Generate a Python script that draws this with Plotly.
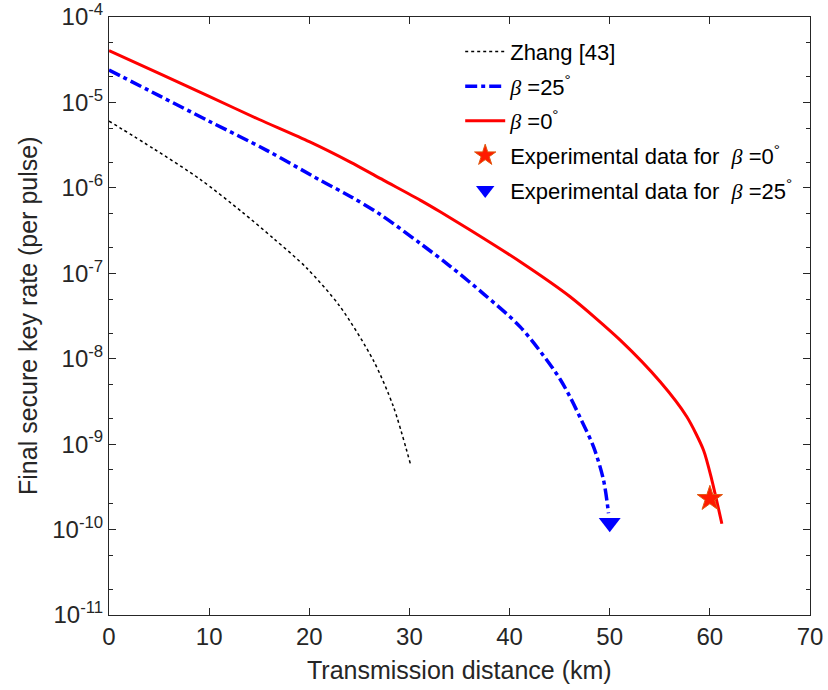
import plotly.graph_objects as go

# Zhang [43]
zhang_x = [0, 4.5, 9.1, 13.26, 16.41, 19.75, 23.08, 26.4, 28.4, 30.14]
zhang_y = [6.05e-6, 2.85e-6, 1.26e-6, 5.25e-7, 2.57e-7, 1.15e-7, 4.07e-8, 9.55e-9, 2.75e-9, 5.62e-10]

# beta = 25 deg
b25_x = [0, 5, 10, 15.75, 21.08, 24.1, 27.07, 31.07, 34.1, 37.4, 41.06, 44.06, 45.05, 46.05, 47.05,
         48.38, 49.38, 49.88]
b25_y = [2.40e-5, 1.20e-5, 6.03e-6, 2.75e-6, 1.23e-6, 7.94e-7, 4.9e-7, 2.24e-7, 1.2e-7, 5.75e-8,
         2.36e-8, 8.5e-9, 5.75e-9, 3.55e-9, 2.04e-9, 9.33e-10, 3.8e-10, 1.55e-10]

# beta = 0 deg
b0_x = [0, 5, 10, 15, 20, 24.1, 27.4, 31.07, 33.07, 36.06, 41.06, 46.05, 51.05, 55.04, 57.7, 59.37,
        60.2, 61.2]
b0_y = [4.03e-5, 2.19e-5, 1.175e-5, 6.31e-6, 3.47e-6, 2.0e-6, 1.23e-6, 7.19e-7, 5.25e-7, 3.21e-7,
        1.365e-7, 5.31e-8, 1.65e-8, 5.37e-9, 2.09e-9, 8.5e-10, 3.8e-10, 1.17e-10]

# experimental points
exp0_x = [60]
exp0_y = [2.3e-10]
exp25_x = [50]
exp25_y = [1.2e-10]

x_ticks = [0, 10, 20, 30, 40, 50, 60, 70]
y_ticks = [1e-4, 1e-5, 1e-6, 1e-7, 1e-8, 1e-9, 1e-10, 1e-11]
y_tick_text = ["10<sup>-4</sup>", "10<sup>-5</sup>", "10<sup>-6</sup>", "10<sup>-7</sup>",
               "10<sup>-8</sup>", "10<sup>-9</sup>", "10<sup>-10</sup>", "10<sup>-11</sup>"]

BETA = "<span style='font-family:Liberation Serif'><i>β</i></span>"
FONT = "Liberation Sans, Arial"
TXT = "#262626"

fig = go.Figure()
fig.add_trace(go.Scatter(x=zhang_x, y=zhang_y, mode="lines", name="Zhang [43]",
                         line=dict(color="black", width=1.5, dash="3px,3px", shape="spline", smoothing=0.8),
                         legendgroup="a"))
fig.add_trace(go.Scatter(x=b25_x, y=b25_y, mode="lines", name=BETA + " =25<sup>°</sup>",
                         line=dict(color="#0000ff", width=3.5, dash="12px,4px,4px,4px",
                                   shape="spline", smoothing=0.9),
                         legendgroup="b"))
fig.add_trace(go.Scatter(x=b0_x, y=b0_y, mode="lines", name=BETA + " =0<sup>°</sup>",
                         line=dict(color="#ff0000", width=3, shape="spline", smoothing=0.7),
                         legendgroup="c"))
fig.add_trace(go.Scatter(x=exp0_x, y=exp0_y, mode="markers",
                         name="Experimental data for  " + BETA + " =0<sup>°</sup>",
                         marker=dict(symbol="star", size=19, color="#ff1a00",
                                     line=dict(color="#e05a10", width=1)), legendgroup="d"))
fig.add_trace(go.Scatter(x=exp25_x, y=exp25_y, mode="markers",
                         name="Experimental data for  " + BETA + " =25<sup>°</sup>",
                         marker=dict(symbol="triangle-down", size=19, color="#0000ff",
                                     line=dict(width=0)), legendgroup="e"))

axis_common = dict(showline=True, linecolor=TXT, linewidth=1, mirror="ticks",
                   ticks="inside", ticklen=7, tickcolor=TXT, showgrid=False, zeroline=False,
                   automargin=False, ticklabeloverflow="allow",
                   tickfont=dict(family=FONT, size=24, color=TXT))

fig.update_xaxes(range=[0, 70], tickvals=x_ticks, **axis_common)
fig.update_yaxes(type="log", range=[-11, -4], tickvals=y_ticks, ticktext=y_tick_text,
                 minor=dict(ticks="inside", ticklen=4, tickcolor=TXT, showgrid=False),
                 **axis_common)

# axis titles
fig.add_annotation(text="Transmission distance (km)", xref="paper", yref="paper", x=0.5, y=0,
                   xanchor="center", yanchor="middle", yshift=-55, showarrow=False,
                   font=dict(family=FONT, size=25, color=TXT))
fig.add_annotation(text="Final secure key rate (per pulse)", xref="paper", yref="paper", x=0, y=0.5,
                   xanchor="center", yanchor="middle", xshift=-81, textangle=-90, showarrow=False,
                   font=dict(family=FONT, size=25, color=TXT))

fig.update_layout(
    width=828, height=690,
    margin=dict(l=109, r=18, t=17, b=75, autoexpand=False),
    paper_bgcolor="white", plot_bgcolor="white",
    legend=dict(x=0.501, y=0.977, xanchor="left", yanchor="top", bgcolor="rgba(0,0,0,0)",
                font=dict(family=FONT, size=22, color="black"),
                traceorder="grouped", tracegroupgap=3, itemwidth=40),
    showlegend=True,
)

fig.write_html("out.html", config={"displayModeBar": False},
               post_script="document.body.style.margin='0';")
